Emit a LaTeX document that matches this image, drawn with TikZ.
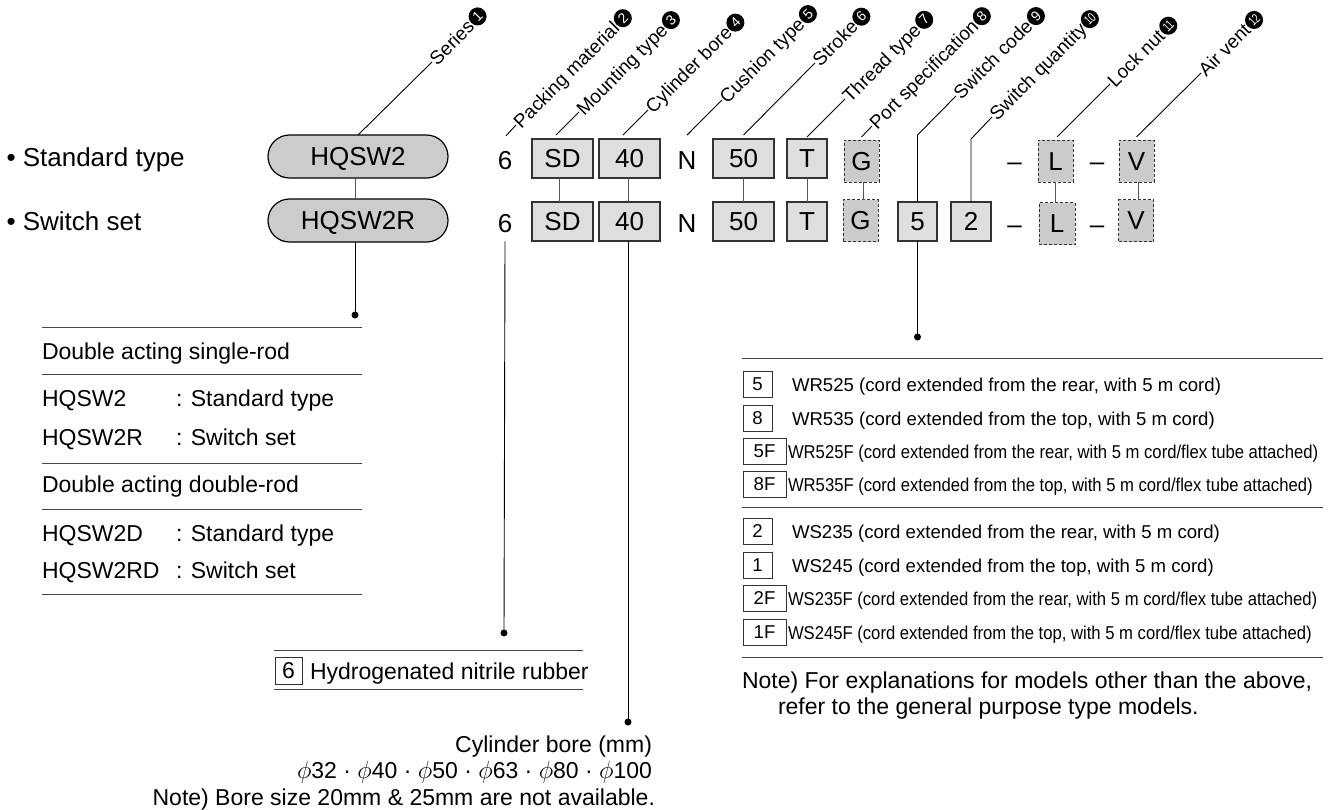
\documentclass[tikz,border=0pt]{standalone}
\usepackage{fontspec}
\setmainfont{Liberation Sans}
\definecolor{pillgray}{HTML}{CCCCCC}
\definecolor{boxgray}{HTML}{DEDEDE}
\definecolor{dashgray}{HTML}{CBCBCB}
\definecolor{bordergray}{HTML}{333333}
\definecolor{conngray}{HTML}{555555}
\definecolor{rulegray}{HTML}{444444}
\begin{document}
\begin{tikzpicture}[x=1pt,y=-1pt,
  every node/.style={inner sep=0pt, outer sep=0pt},
  big/.style={font=\fontsize{26}{30}\selectfont},
  mid/.style={font=\fontsize{23}{27}\selectfont},
  sml/.style={font=\fontsize{18.6}{22}\selectfont},
  lbl/.style={font=\fontsize{19}{22}\selectfont, rotate=45, anchor=west, inner sep=0.8pt, text height=13.6pt, text depth=0pt},
  num/.style={circle, fill=black, text=white, minimum size=18pt, rotate=45, anchor=west, font=\fontsize{14}{14}\selectfont},
  numw/.style={num, font=\fontsize{13}{13}\selectfont},
  pill/.style={draw=black, line width=1.2pt, fill=pillgray, rounded corners=21.5pt, minimum width=180pt, minimum height=43pt, text height=18.6pt, text depth=0pt, big},
  sbox/.style={draw=bordergray, line width=1.2pt, fill=boxgray, minimum height=39pt, text height=18.6pt, text depth=0pt, big},
  dbox/.style={draw=bordergray, line width=1pt, dash pattern=on 3pt off 2pt, fill=dashgray, minimum width=35pt, minimum height=42pt, text height=18.6pt, text depth=0pt, big},
  rbox/.style={draw=bordergray, line width=0.9pt, minimum height=26pt, text height=13.3pt, text depth=0pt, sml},
  conn/.style={draw=conngray, line width=1pt},
  leader/.style={draw=black, line width=0.9pt},
  dot/.style={circle, fill=black, minimum size=7pt},
  rule/.style={draw=rulegray, line width=1pt}
]
\useasboundingbox (0,0) rectangle (1340,809);

% headings
\node[big, anchor=base west] (hstd) at (6.5,166.5) {• Standard type};
\node[big, anchor=base west] (hsw) at (6.5,230.5) {• Switch set};

% pills
\node[pill] (p1) at (358,156.5) {HQSW2};
\node[pill] (p2) at (358,220.5) {HQSW2R};

% top row
\node[big, anchor=base] (s6a) at (505,169) {6};
\node[sbox, minimum width=61pt] (sda) at (562.5,158.5) {SD};
\node[sbox, minimum width=61pt] (b40a) at (629.5,158.5) {40};
\node[big, anchor=base] (na) at (687,169) {N};
\node[sbox, minimum width=61pt] (b50a) at (743.5,158.5) {50};
\node[sbox, minimum width=40pt] (ta) at (807,158.5) {T};
\node[dbox] (ga) at (861.5,161) {G};
\node[big, anchor=base] (m1a) at (1014.5,170) {–};
\node[dbox] (la) at (1055.5,161) {L};
\node[big, anchor=base] (m2a) at (1097,170) {–};
\node[dbox] (va) at (1136.5,161) {V};

% bottom row
\node[big, anchor=base] (s6b) at (505,232) {6};
\node[sbox, minimum width=61pt] (sdb) at (562.5,221.5) {SD};
\node[sbox, minimum width=61pt] (b40b) at (629.5,221.5) {40};
\node[big, anchor=base] (nb) at (687,232) {N};
\node[sbox, minimum width=61pt] (b50b) at (743.5,221.5) {50};
\node[sbox, minimum width=40pt] (tb) at (807,221.5) {T};
\node[dbox] (gb) at (860.5,220.5) {G};
\node[sbox, minimum width=39pt] (b5) at (917.5,221.5) {5};
\node[sbox, minimum width=40pt] (b2) at (971,221.5) {2};
\node[big, anchor=base] (m1b) at (1014.5,233) {–};
\node[dbox, minimum width=36pt] (lb) at (1057,223.5) {L};
\node[big, anchor=base] (m2b) at (1097,233) {–};
\node[dbox] (vb) at (1136,220.5) {V};

% row connectors
\draw[conn] ([xshift=-3pt]p1.south) -- ([xshift=-3pt]p2.north);
\draw[conn] ([xshift=-3.5pt]sda.south) -- ([xshift=-3.5pt]sdb.north);
\draw[conn] ([xshift=-1.5pt]b40a.south) -- ([xshift=-1.5pt]b40b.north);
\draw[conn] (b50a.south) -- (b50b.north);
\draw[conn] (ta.south) -- (tb.north);
\draw[conn] ([xshift=1.5pt]ga.south) -- ([xshift=1.5pt]ga.south |- gb.north);
\draw[conn] (la.south) -- (la.south |- lb.north);
\draw[conn] ([xshift=1.5pt]va.south) -- ([xshift=1.5pt]va.south |- vb.north);

% top labels
\node[lbl] (t1) at (432,62) {Series};
\node[num] (n1) at (t1.east) {1};
\node[lbl] (t2) at (516,125) {Packing material};
\node[num] (n2) at (t2.east) {2};
\node[lbl] (t3) at (579,112) {Mounting type};
\node[num] (n3) at (t3.east) {3};
\node[lbl] (t4) at (648,110) {Cylinder bore};
\node[num] (n4) at (t4.east) {4};
\node[lbl] (t5) at (722,100) {Cushion type};
\node[num] (n5) at (t5.east) {5};
\node[lbl] (t6) at (815,63) {Stroke};
\node[num] (n6) at (t6.east) {6};
\node[lbl] (t7) at (845,99) {Thread type};
\node[num] (n7) at (t7.east) {7};
\node[lbl] (t8) at (872,126) {Port specification};
\node[num] (n8) at (t8.east) {8};
\node[lbl] (t9) at (956,96) {Switch code};
\node[num] (n9) at (t9.east) {9};
\node[lbl] (t10) at (992,117) {Switch quantity};
\node[numw] (n10) at (t10.east) {\scalebox{0.72}[1]{10}};
\node[lbl] (t11) at (1110,84) {Lock nut};
\node[numw] (n11) at (t11.east) {\scalebox{0.72}[1]{11}};
\node[lbl] (t12) at (1201,73) {Air vent};
\node[numw] (n12) at (t12.east) {\scalebox{0.72}[1]{12}};

% leaders
\coordinate (k9) at (917.5,135);
\coordinate (k10) at (971,139);
\draw[leader] (p1.north) -- (t1.west);
\draw[leader] ([xshift=1pt,yshift=15pt]s6a.north) -- (t2.west);
\draw[leader] ([xshift=-6.5pt,yshift=4pt]sda.north) -- (t3.west);
\draw[leader] ([xshift=-6.5pt,yshift=4pt]b40a.north) -- (t4.west);
\draw[leader] ([yshift=16pt]na.north) -- (t5.west);
\draw[leader] ([yshift=4pt]b50a.north) -- (t6.west);
\draw[leader] ([yshift=2pt]ta.north) -- (t7.west);
\draw[leader] ([yshift=3pt]ga.north) -- (t8.west);
\draw[leader] (b5.north) -- (k9) -- (t9.west);
\draw[leader] (b2.north) -- (k10) -- (t10.west);
\draw[leader] ([xshift=1.5pt,yshift=3pt]la.north) -- (t11.west);
\draw[leader] ([yshift=3pt]va.north) -- (t12.west);

% series table
\node[dot] (dser) at (355,315) {};
\draw[leader] ([xshift=-3pt]p2.south) -- (dser.center);
\draw[rule] (42,327) -- (362,327);
\draw[rule] (42,374) -- (362,374);
\draw[rule] (42,463) -- (362,463);
\draw[rule] (42,509) -- (362,509);
\draw[rule] (42,594) -- (362,594);
\node[mid, anchor=base west] (st1) at (42,359) {Double acting single-rod};
\node[mid, anchor=base west] (st2) at (42,406) {HQSW2};
\node[mid, anchor=base west] (st2b) at (176,406) {: Standard type};
\node[mid, anchor=base west] (st3) at (42,445) {HQSW2R};
\node[mid, anchor=base west] (st3b) at (176,445) {: Switch set};
\node[mid, anchor=base west] (st4) at (42,492) {Double acting double-rod};
\node[mid, anchor=base west] (st5) at (42,541) {HQSW2D};
\node[mid, anchor=base west] (st5b) at (176,541) {: Standard type};
\node[mid, anchor=base west] (st6) at (42,578) {HQSW2RD};
\node[mid, anchor=base west] (st6b) at (176,578) {: Switch set};

% packing material
\node[dot] (dpk) at (504,633) {};
\draw[leader] ([yshift=-9pt]s6b.south) -- (dpk.center);
\draw[rule] (274,650) -- (583,650);
\draw[rule] (274,689) -- (583,689);
\node[draw=bordergray, line width=0.9pt, minimum width=27pt, minimum height=27pt, text height=16.5pt, text depth=0pt, mid] (pk6) at (288.5,670.5) {6};
\node[mid, anchor=base west] (pktx) at (310,679) {Hydrogenated nitrile rubber};

% cylinder bore
\node[dot] (dcb) at (628,722) {};
\draw[leader] ([xshift=-1.5pt]b40b.south) -- (dcb.center);
\node[mid, anchor=base east] (cb1) at (652,752) {Cylinder bore (mm)};
\node[mid, anchor=base east] (cb2) at (652,778) {$\phi$32 · $\phi$40 · $\phi$50 · $\phi$63 · $\phi$80 · $\phi$100};
\node[mid, anchor=base east] (cb3) at (655,805) {Note) Bore size 20mm \& 25mm are not available.};

% switch code table
\node[dot] (dsw) at (917.5,337) {};
\draw[leader] (b5.south) -- (dsw.center);
\draw[rule] (742,358) -- (1323,358);
\draw[rule] (742,507) -- (1323,507);
\draw[rule] (742,657) -- (1323,657);
\node[rbox, minimum width=29pt] (r1) at (757.5,384) {5};
\node[sml, anchor=base west] (rt1) at (792,391) {WR525 (cord extended from the rear, with 5 m cord)};
\node[rbox, minimum width=29pt] (r2) at (757.5,418) {8};
\node[sml, anchor=base west] (rt2) at (792,425) {WR535 (cord extended from the top, with 5 m cord)};
\node[rbox, minimum width=43pt] (r3) at (764.5,451) {5F};
\node[sml, anchor=base west] (rt3) at (788,458) {\scalebox{0.895}[1]{WR525F (cord extended from the rear, with 5 m cord/flex tube attached)}};
\node[rbox, minimum width=43pt] (r4) at (764.5,484) {8F};
\node[sml, anchor=base west] (rt4) at (788,491) {\scalebox{0.895}[1]{WR535F (cord extended from the top, with 5 m cord/flex tube attached)}};
\node[rbox, minimum width=29pt] (r5) at (757.5,531) {2};
\node[sml, anchor=base west] (rt5) at (792,538) {WS235 (cord extended from the rear, with 5 m cord)};
\node[rbox, minimum width=29pt] (r6) at (757.5,565) {1};
\node[sml, anchor=base west] (rt6) at (792,572) {WS245 (cord extended from the top, with 5 m cord)};
\node[rbox, minimum width=43pt] (r7) at (764.5,598) {2F};
\node[sml, anchor=base west] (rt7) at (788,605) {\scalebox{0.895}[1]{WS235F (cord extended from the rear, with 5 m cord/flex tube attached)}};
\node[rbox, minimum width=43pt] (r8) at (764.5,632) {1F};
\node[sml, anchor=base west] (rt8) at (788,639) {\scalebox{0.895}[1]{WS245F (cord extended from the top, with 5 m cord/flex tube attached)}};
\node[mid, anchor=base west] (nt1) at (742,688) {Note) For explanations for models other than the above,};
\node[mid, anchor=base west] (nt2) at (778,714) {refer to the general purpose type models.};
\end{tikzpicture}
\end{document}
